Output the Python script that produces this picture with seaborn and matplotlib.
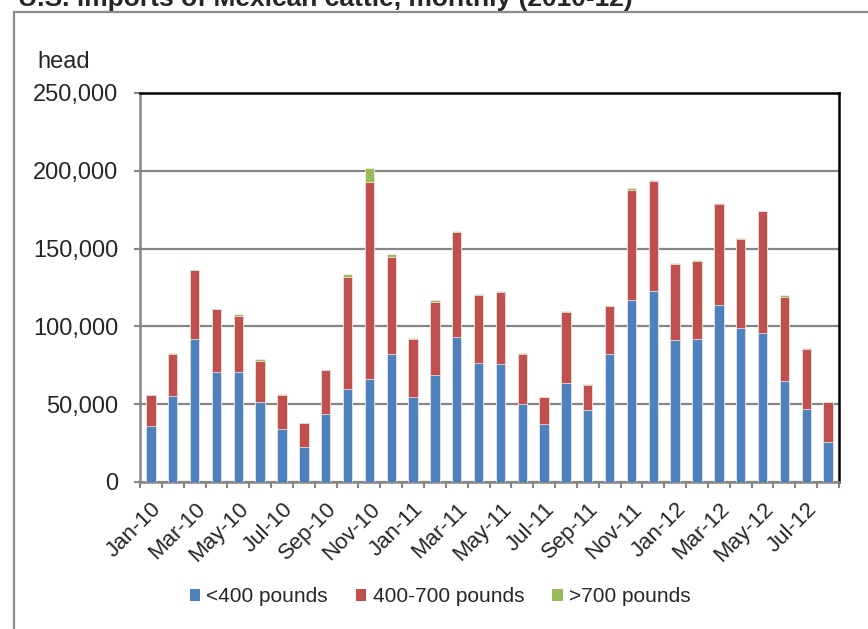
import numpy as np
import pandas as pd
import matplotlib
matplotlib.use("Agg")
import matplotlib.pyplot as plt
from matplotlib.patches import Patch, Rectangle
from matplotlib.ticker import FuncFormatter, FixedLocator
import seaborn as sns

# monthly imports, head
months = ["Jan-10", "Feb-10", "Mar-10", "Apr-10", "May-10", "Jun-10", "Jul-10", "Aug-10",
          "Sep-10", "Oct-10", "Nov-10", "Dec-10", "Jan-11", "Feb-11", "Mar-11", "Apr-11",
          "May-11", "Jun-11", "Jul-11", "Aug-11", "Sep-11", "Oct-11", "Nov-11", "Dec-11",
          "Jan-12", "Feb-12", "Mar-12", "Apr-12", "May-12", "Jun-12", "Jul-12", "Aug-12"]
under_400 = [36100, 55300, 92100, 70500, 71000, 51500, 34200, 22400, 43600, 59600, 66000,
             82500, 54900, 69000, 93200, 76300, 75900, 50400, 37200, 63900, 46200, 82500,
             117100, 122900, 91500, 92100, 113900, 98700, 95900, 65200, 46600, 25400]
from_400_700 = [19700, 27200, 44200, 40400, 35600, 26300, 21800, 15200, 28200, 72000, 126700,
                61900, 37200, 46600, 67300, 43600, 46100, 32100, 17500, 45500, 16400, 30300,
                70700, 70500, 48700, 50200, 64500, 57500, 78000, 54000, 39100, 25700]
over_700 = [200, 500, 200, 100, 1100, 1500, 300, 200, 200, 2200, 9400, 2200, 500, 1100, 1000,
            1100, 900, 300, 200, 600, 200, 200, 1100, 600, 300, 200, 900, 600, 400, 1000, 300, 500]
series_names = ["<400 pounds", "400-700 pounds", ">700 pounds"]
colors = ["#4F81BD", "#C0504D", "#9BBB59"]

df = pd.DataFrame({"month": months, "a": under_400, "b": from_400_700, "c": over_700})
df["top_b"] = df["a"] + df["b"]
df["top_c"] = df["top_b"] + df["c"]

sns.set_style("white")
plt.rcParams["font.family"] = ["Liberation Sans", "DejaVu Sans"]

fig = plt.figure(figsize=(8.68, 6.29), dpi=100)
ax = fig.add_axes([140 / 868, 1 - 482 / 629, 699 / 868, 389 / 629])

# stacked look: draw cumulative totals from the largest down
for col, c in zip(["top_c", "top_b", "a"], colors[::-1]):
    sns.barplot(data=df, x="month", y=col, color=c, width=0.43, ax=ax,
                edgecolor="#f2f2f2", linewidth=0.5, saturation=1, zorder=3)

ax.set_ylim(0, 250000)
ax.set_xlim(-0.5, len(months) - 0.5)
ax.set_yticks(np.arange(0, 250001, 50000))
ax.yaxis.set_major_formatter(FuncFormatter(lambda v, p: f"{int(v):,}"))
ax.grid(axis="y", color="#868686", linewidth=1.6, zorder=0)
ax.set_axisbelow(True)
ax.set_xlabel("")
ax.set_ylabel("")

for s in ["left", "bottom"]:
    ax.spines[s].set_color("#868686")
    ax.spines[s].set_linewidth(1.8)
for s in ["top", "right"]:
    ax.spines[s].set_color("black")
    ax.spines[s].set_linewidth(1.8)

ax.tick_params(axis="y", which="major", left=True, length=4.5, width=1.5, color="#868686",
               pad=11, labelsize=17)

# x: ticks between the categories, labels every second month
ax.xaxis.set_major_locator(FixedLocator(range(0, len(months), 2)))
ax.set_xticklabels(months[::2], rotation=45, ha="right", va="top", rotation_mode="anchor")
ax.xaxis.set_minor_locator(FixedLocator(np.arange(-0.5, len(months), 1)))
ax.tick_params(axis="x", which="major", length=0, pad=12, labelsize=16)
ax.tick_params(axis="x", which="minor", bottom=True, length=4.5, width=1.5, color="#868686")

fig.text(37 / 868, 1 - 68 / 629, "head", fontsize=17, va="baseline")
fig.text(18 / 868, 1 - 6 / 629, "U.S. imports of Mexican cattle, monthly (2010-12)",
         fontsize=19, fontweight="bold", va="baseline")

# outer frame that runs off the right and bottom edges
fig.add_artist(Rectangle((13.5 / 868, -0.2), 2, 1.2 - 12 / 629, transform=fig.transFigure,
                         fill=False, edgecolor="#8c8c8c", linewidth=1.6))

handles = [Patch(facecolor=c, edgecolor="none", label=n) for c, n in zip(colors, series_names)]
fig.legend(handles=handles, loc="center", bbox_to_anchor=(440 / 868, 1 - 597 / 629), ncol=3,
           frameon=False, fontsize=15, handlelength=0.5, handleheight=0.5,
           handletextpad=0.3, columnspacing=1.35)

fig.savefig("out.png", dpi=100)
